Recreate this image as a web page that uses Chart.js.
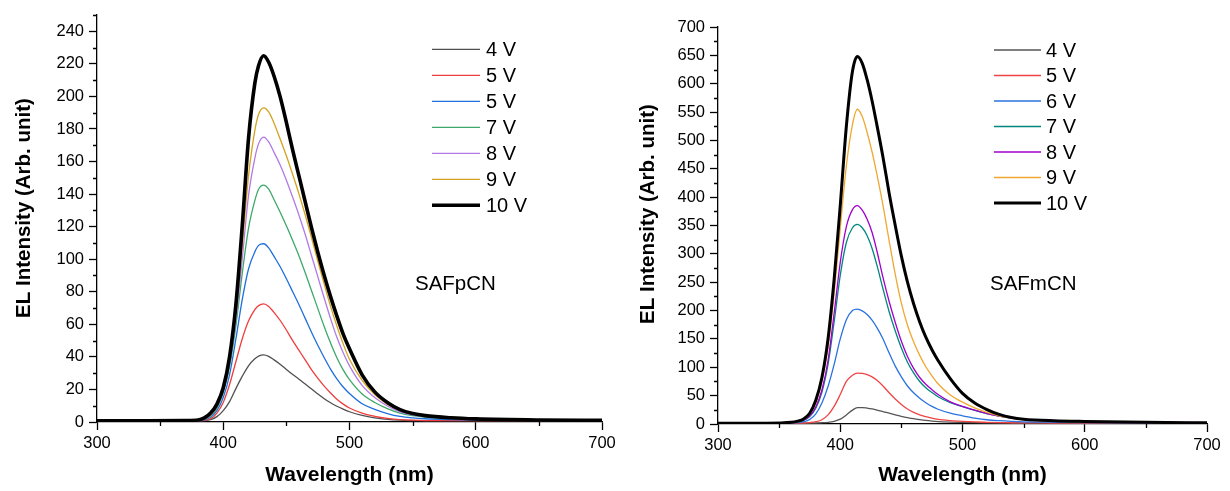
<!DOCTYPE html>
<html><head><meta charset="utf-8">
<script src="https://cdn.jsdelivr.net/npm/chart.js@4.4.1/dist/chart.umd.min.js"></script>
<style>
html,body{margin:0;padding:0;background:#fff;width:1230px;height:491px;overflow:hidden}
canvas{position:absolute;top:0}
#c1{left:0}#c2{left:615px}
</style></head><body>
<canvas id="c1" width="625" height="491"></canvas>
<canvas id="c2" width="615" height="491"></canvas>
<script>
// ---------- data: left panel (SAFpCN) ----------
const sampleL = 'SAFpCN';
const labelsL = ['4 V','5 V','5 V','7 V','8 V','9 V','10 V'];
const wavelengthL = [300,340,370,380,385,390,395,400,405,410,415,420,425,428,432,436,440,445,450,455,460,465,470,475,480,485,490,495,500,510,520,530,540,550,560,580,600,650,700];
const L4  = [0.8,0.8,0.8,0.8,0.9,1.5,3.3,7,12.5,20.5,28,34.5,38.8,40.5,41.2,40.3,38.3,35.5,32.3,29.2,26.3,23.3,20.3,17.2,14.3,11.8,9.7,7.9,6.3,4,2.5,1.6,1.1,0.9,0.8,0.8,0.8,0.8,0.8];
const L5  = [0.8,0.8,0.8,0.8,1,2,5.5,12,23,37,51,62,69,71.5,72.5,71,67.5,62.5,56.5,50,44,38,32,26.8,22,17.8,14,11,8.6,5.4,3.5,2.2,1.4,1.1,0.9,0.8,0.8,0.8,0.8];
const L5b = [0.8,0.8,0.8,0.8,1.3,3,7,15,29,51,75,94,104.5,108.5,109.5,107,102,95.5,88,80,72,63.5,55,47,39.5,32.5,26.5,21.5,17.5,11.2,7.8,5.2,3.4,2.5,2,1.5,1.2,1,0.8];
const L7  = [0.8,0.8,0.8,0.9,1.6,3.5,8.5,18,34,59,91,119,136,143,145.5,143,137,129,120.5,111.5,102,91.5,80.5,69.5,58.5,48.5,39.5,32,26,17.2,12,8.2,5.4,3.9,3,2.2,1.6,1.1,0.9];
const L8  = [0.8,0.8,0.8,0.9,1.8,4,9.5,19,36,63,100,139,162,171,175,172,166,158,148.5,138,127,115,102,89,76,63.5,52,42.5,34.5,22.5,15,9.8,6.2,4.4,3.3,2.4,1.8,1.2,1.0];
const L9  = [0.8,0.8,0.8,1.0,2.0,4.5,10,20,38,67,108,151,179,189,193,190.5,184,174,163.5,152,140,127,113,98.5,84.5,71,59,48,38.5,25.5,16.8,11,7.2,5.1,4,3,2.2,1.3,1.0];
const L10 = [0.8,0.8,0.9,1.2,2.5,5.5,11,21,40,72,120,174,208,219,225,221,213,200,184,167,151,135,119,104,90,77,65,54,45,29,18.5,12,7.6,5.2,3.9,2.6,1.9,1.2,1.0];
const yTicksL = {min:0, max:250, step:20, minor:10};

// ---------- data: right panel (SAFmCN) ----------
const sampleR = 'SAFmCN';
const labelsR = ['4 V','5 V','6 V','7 V','8 V','9 V','10 V'];
const wavelengthR = [300,340,360,365,370,375,380,385,390,395,400,405,410,414,418,422,426,430,435,440,445,450,455,460,465,470,475,480,490,500,510,520,530,540,550,575,600,650,700];
const R4  = [1.5,1.5,1.5,1.5,1.5,1.6,1.8,2.2,3,4.8,8.5,16,24.5,29,29,28,26.5,24.5,22,19,16.2,13.6,11.3,9.3,7.7,6.3,5.2,4.3,3.3,2.8,2.4,2.1,1.9,1.8,1.7,1.6,1.5,1.5,1.5];
const R5  = [1.5,1.5,1.5,1.6,1.8,2.5,4,7.5,16,31,52,75,86,89.8,89.2,87,83,77,67,55,44,34.5,26.5,20.5,16,12.8,10.2,8.2,6,4.6,3.6,3,2.5,2.2,2,1.8,1.6,1.5,1.5];
const R6  = [1.5,1.5,2,2.5,4,8,18,37,66,105,150,184,200,202.5,199.5,193,183,170,150,125,102,83,67,55,45.5,37.5,31,26,19,14.5,10.5,7.5,5.8,4.6,3.8,3,2.5,2,1.5];
const R7  = [1.5,1.5,2.5,4,6.5,13,28,56,105,180,262,320,346,352,346,332,310,280,238,198,164,134,109,90,75,64,55.5,48,37.5,30.5,24,18.5,14,10.5,8,5.2,4,3,2];
const R8  = [1.5,1.5,2.5,4,7,14,30,60,112,195,285,348,378,385,377,361,338,305,258,216,179,146,119,98,82,70,60.5,52,39,31,24.5,18.5,14,10.5,8,5.5,4.5,3.5,2.5];
const R9  = [1.5,1.5,2.8,4.5,8,17,37,75,135,230,345,455,528,555,542,514,480,440,385,323,264,213,174,145,121,101,85,71,51,38.5,28.5,20.5,14.5,10.5,7.8,5.2,4,2.8,2];
const R10 = [1.5,1.5,3,5,9,19,42,82,150,255,385,525,622,648,636,607,570,527,470,407,350,296,250,212,180,153,131,112,80,54,37,25.5,17,11.5,8.5,5.7,4.5,3,2];
const yTicksR = {min:0, max:700, step:50, minor:25};

const xTicks = {min:300, max:700, step:100, minor:50};
const xTitle = 'Wavelength (nm)';
const yTitle = 'EL Intensity (Arb. unit)';

// ---------- styling ----------
const FONT = "'Liberation Sans', Arial, sans-serif";
const colorsL = ['#505050','#ef3d3d','#1f6fdc','#3da86c','#b27ae6','#d4a21e','#000000'];
const colorsR = ['#555555','#f04444','#2a72e0','#00877d','#a000cc','#f0a832','#000000'];

function pts(xs, ys){ return xs.map((x,i)=>({x:x, y:ys[i]})); }

function makeSets(xs, series, labels, colors, thick){
  return series.map((s,i)=>({
    label: labels[i],
    data: pts(xs, s),
    borderColor: colors[i],
    borderWidth: i===series.length-1 ? thick : 1.3,
    pointRadius: 0,
    fill: false,
    cubicInterpolationMode: 'monotone',
    order: series.length-1-i
  }));
}

const overlay = {
  id: 'overlay',
  afterDraw(chart, args, o){
    const ctx = chart.ctx;
    const xs = chart.scales.x, ys = chart.scales.y;
    const ca = chart.chartArea;
    ctx.save();
    // minor ticks
    ctx.strokeStyle = '#000'; ctx.lineWidth = 1.3;
    ctx.beginPath();
    for (let v = o.yt.min; v <= o.yt.max + 1e-9; v += o.yt.minor){
      if (Math.abs(v % o.yt.step) < 1e-9) continue;
      const p = Math.round(ys.getPixelForValue(v)) + 0.5;
      ctx.moveTo(ca.left, p); ctx.lineTo(ca.left - 4, p);
    }
    for (let v = o.xt.min; v <= o.xt.max + 1e-9; v += o.xt.minor){
      if (Math.abs((v - o.xt.min) % o.xt.step) < 1e-9) continue;
      const p = Math.round(xs.getPixelForValue(v)) + 0.5;
      ctx.moveTo(p, ca.bottom); ctx.lineTo(p, ca.bottom + 4);
    }
    ctx.stroke();
    // legend
    ctx.font = '20px ' + FONT;
    ctx.textBaseline = 'middle';
    ctx.textAlign = 'left';
    chart.data.datasets.forEach((ds, i) => {
      const y = o.y0 + i*o.dy;
      ctx.strokeStyle = ds.borderColor; ctx.lineWidth = ds.borderWidth;
      ctx.beginPath(); ctx.moveTo(o.x0, y); ctx.lineTo(o.x1, y); ctx.stroke();
      ctx.fillStyle = '#000';
      ctx.fillText(ds.label, o.tx, y + 1);
    });
    // sample name
    ctx.font = '20.5px ' + FONT;
    ctx.fillText(o.sample, o.sx, o.sy);
    // y title
    ctx.save();
    ctx.translate(o.ytx, o.yty);
    ctx.rotate(-Math.PI/2);
    ctx.textAlign = 'center';
    ctx.textBaseline = 'middle';
    ctx.font = 'bold 20.5px ' + FONT;
    ctx.fillText(yTitle, 0, 0);
    ctx.restore();
    ctx.restore();
  }
};

function makeChart(id, xs, series, labels, colors, thick, yt, cfg){
  return new Chart(document.getElementById(id), {
    type: 'line',
    data: { datasets: makeSets(xs, series, labels, colors, thick) },
    plugins: [overlay],
    options: {
      responsive: false, animation: false, devicePixelRatio: 1,
      layout: { padding: { left: 0, top: cfg.top, right: cfg.right, bottom: 0 } },
      plugins: {
        legend: { display: false }, tooltip: { enabled: false },
        overlay: Object.assign({ yt: yt, xt: xTicks }, cfg.ov)
      },
      scales: {
        x: {
          type: 'linear', min: xTicks.min, max: xTicks.max,
          afterFit(s){ s.height = cfg.xh; },
          ticks: { stepSize: xTicks.step, color: '#000', font: { family: FONT, size: 16.5 }, padding: 4, maxRotation: 0 },
          grid: { drawOnChartArea: false, drawTicks: true, tickLength: 8, tickColor: '#000', tickWidth: 1.3 },
          border: { display: true, color: '#000', width: 1.3 },
          title: { display: true, text: xTitle, color: '#000', font: { family: FONT, size: 21, weight: 'bold' }, padding: { top: 0, bottom: 3 } }
        },
        y: {
          type: 'linear', min: yt.min, max: yt.max,
          afterFit(s){ s.width = cfg.yw; },
          ticks: { stepSize: yt.step, includeBounds: false, color: '#000', font: { family: FONT, size: 16.5 }, padding: 5 },
          grid: { drawOnChartArea: false, drawTicks: true, tickLength: 8, tickColor: '#000', tickWidth: 1.3 },
          border: { display: true, color: '#000', width: 1.3 },
          title: { display: false }
        }
      }
    }
  });
}

makeChart('c1', wavelengthL, [L4,L5,L5b,L7,L8,L9,L10], labelsL, colorsL, 3.6, yTicksL,
  { top: 15, right: 23, xh: 69, yw: 97,
    ov: { x0: 432, x1: 480, tx: 486, y0: 49.3, dy: 26, sample: sampleL, sx: 415, sy: 284, ytx: 24, yty: 208 } });

makeChart('c2', wavelengthR, [R4,R5,R6,R7,R8,R9,R10], labelsR, colorsR, 3.0, yTicksR,
  { top: 27, right: 23, xh: 67, yw: 103,
    ov: { x0: 379, x1: 426, tx: 431, y0: 50, dy: 25.5, sample: sampleR, sx: 375, sy: 284, ytx: 33.5, yty: 214 } });
</script>
</body></html>
